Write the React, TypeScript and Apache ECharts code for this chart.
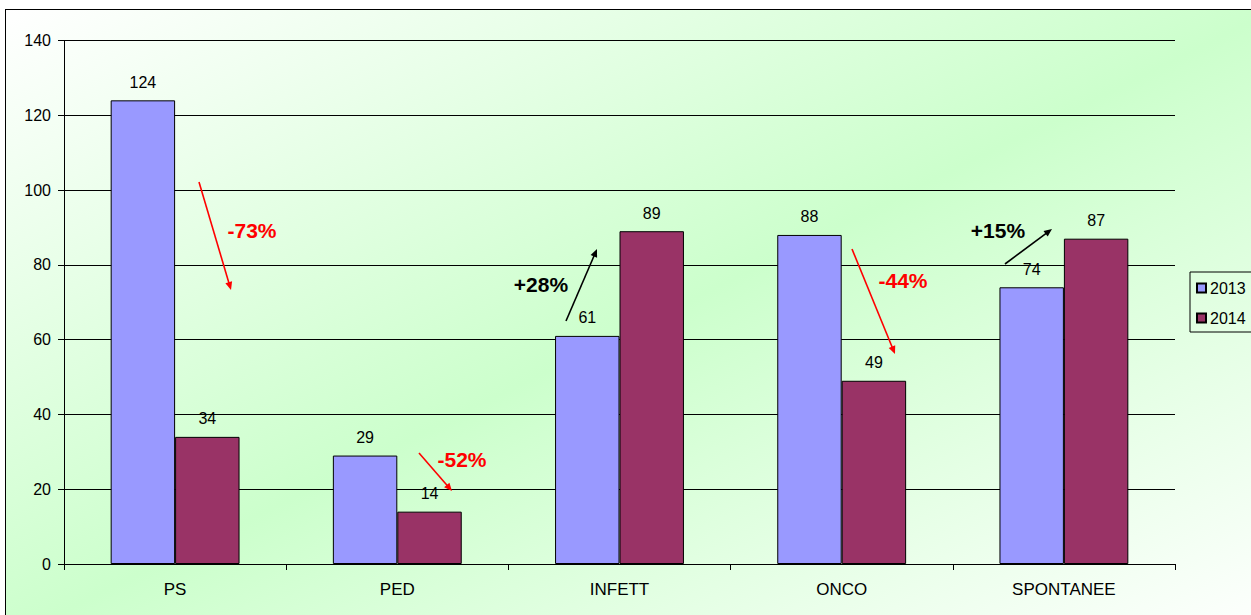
import React, { useEffect, useRef } from "react";
import * as echarts from "echarts";

const categories = ["PS", "PED", "INFETT", "ONCO", "SPONTANEE"];
const values2013 = [124, 29, 61, 88, 74];
const values2014 = [34, 14, 89, 49, 87];
const seriesNames = ["2013", "2014"];
const yTicks = { min: 0, max: 140, interval: 20 };
const changeLabels = ["-73%", "-52%", "+28%", "-44%", "+15%"];

const FONT = "Arial, 'Liberation Sans', sans-serif";

function arrow(x1: number, y1: number, x2: number, y2: number, color: string) {
  const dx = x2 - x1;
  const dy = y2 - y1;
  const len = Math.sqrt(dx * dx + dy * dy);
  const ux = dx / len;
  const uy = dy / len;
  const hl = 8;
  const hw = 3.5;
  const bx = x2 - ux * hl;
  const by = y2 - uy * hl;
  return [
    {
      type: "line",
      z: 100,
      shape: { x1, y1, x2: bx + ux * 2, y2: by + uy * 2 },
      style: { stroke: color, lineWidth: 1.6 },
    },
    {
      type: "polygon",
      z: 100,
      shape: {
        points: [
          [x2, y2],
          [bx - uy * hw, by + ux * hw],
          [bx + uy * hw, by - ux * hw],
        ],
      },
      style: { fill: color },
    },
  ];
}

function label(text: string, cx: number, cy: number, color: string) {
  return {
    type: "text",
    z: 100,
    x: cx,
    y: cy,
    style: {
      text,
      fill: color,
      font: `bold 21px ${FONT}`,
      textAlign: "center",
      textVerticalAlign: "middle",
    },
  };
}

export default function App() {
  const ref = useRef<HTMLDivElement>(null);

  useEffect(() => {
    if (!ref.current) return;
    const chart = echarts.init(ref.current, undefined, { renderer: "svg" });
    const red = "#ff0000";
    const black = "#000000";
    const graphics: any[] = [
      ...arrow(199, 182, 231, 290, red),
      label(changeLabels[0], 252, 230, red),
      ...arrow(419, 453, 452, 491, red),
      label(changeLabels[1], 462, 459, red),
      ...arrow(566, 321, 597, 249, black),
      label(changeLabels[2], 541, 284, black),
      ...arrow(852, 249, 895, 354, red),
      label(changeLabels[3], 903, 280, red),
      ...arrow(1005, 264, 1052, 229, black),
      label(changeLabels[4], 998, 230, black),
    ];
    chart.setOption({
      animation: false,
      backgroundColor: "transparent",
      textStyle: { fontFamily: FONT },
      grid: { left: 64, top: 40.5, right: 76, bottom: 51, containLabel: false },
      legend: {
        orient: "vertical",
        left: 1190,
        top: 272,
        padding: [8, 10, 6, 6],
        itemGap: 14,
        itemWidth: 9,
        itemHeight: 9,
        borderColor: "#000",
        borderWidth: 1,
        icon: "rect",
        textStyle: { color: "#000", fontSize: 16, fontFamily: FONT, padding: [0, 0, 0, -1] },
        data: seriesNames,
      },
      xAxis: {
        type: "category",
        data: categories,
        axisLine: { lineStyle: { color: "#000", width: 1 } },
        axisTick: { show: true, length: 6, lineStyle: { color: "#000" } },
        axisLabel: { color: "#000", fontSize: 17, margin: 17, fontFamily: FONT },
        splitLine: { show: false },
      },
      yAxis: {
        type: "value",
        min: yTicks.min,
        max: yTicks.max,
        interval: yTicks.interval,
        axisLine: { show: true, lineStyle: { color: "#000", width: 1 } },
        axisTick: { show: true, length: 6, lineStyle: { color: "#000" } },
        axisLabel: { color: "#000", fontSize: 16, margin: 13, fontFamily: FONT },
        splitLine: { show: true, lineStyle: { color: "#000", width: 1 } },
      },
      series: [
        {
          name: seriesNames[0],
          type: "bar",
          data: values2013,
          barGap: "0%",
          barCategoryGap: "42%",
          itemStyle: { color: "#9999ff", borderColor: "#000", borderWidth: 1 },
          label: { show: true, position: "top", distance: 10, color: "#000", fontSize: 16, fontFamily: FONT },
        },
        {
          name: seriesNames[1],
          type: "bar",
          data: values2014,
          barGap: "0%",
          barCategoryGap: "42%",
          itemStyle: { color: "#993366", borderColor: "#000", borderWidth: 1 },
          label: { show: true, position: "top", distance: 10, color: "#000", fontSize: 16, fontFamily: FONT },
        },
      ],
      graphic: graphics,
    });
    return () => chart.dispose();
  }, []);

  return (
    <div style={{ position: "absolute", left: 0, top: 0, width: 1251, height: 615, background: "#fff", overflow: "hidden" }}>
      <div
        style={{
          position: "absolute",
          left: 5,
          top: 9,
          width: 1270,
          height: 630,
          border: "1.5px solid #000",
          background: "linear-gradient(to bottom right, #ffffff 0%, #ccffcc 50%, #ffffff 100%)",
        }}
      />
      <div ref={ref} style={{ position: "absolute", left: 0, top: 0, width: 1251, height: 615 }} />
    </div>
  );
}
